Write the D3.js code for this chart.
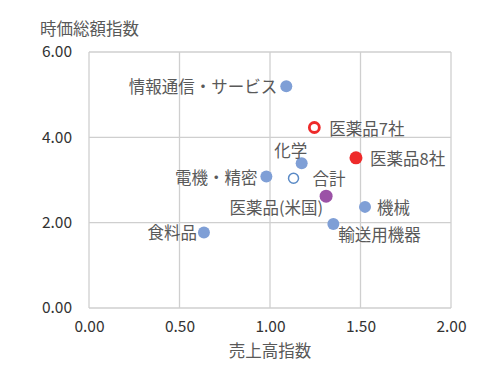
<!DOCTYPE html>
<html><head><meta charset="utf-8">
<script src="https://cdn.jsdelivr.net/npm/d3@7"></script>
<style>
body{margin:0;background:#fff;}
text{font-family:"Noto Sans CJK JP","Noto Sans",sans-serif;}
</style></head>
<body><svg id="c" width="500" height="380"></svg>
<script>
// ---- data ----
const names = ["情報通信・サービス","医薬品7社","医薬品8社","化学","電機・精密","合計","医薬品(米国)","機械","輸送用機器","食料品"];
const salesIndex = [1.09, 1.245, 1.475, 1.175, 0.98, 1.13, 1.31, 1.525, 1.35, 0.635];
const marketCapIndex = [5.2, 4.23, 3.52, 3.39, 3.08, 3.04, 2.62, 2.37, 1.97, 1.77];
const markerType = ["blue","redHollow","red","blue","blue","blueHollow","purple","blue","blue","blue"];
const xTicks = [0, 0.5, 1.0, 1.5, 2.0];
const yTicks = [0, 2, 4, 6];
const xTitle = "売上高指数";
const yTitle = "時価総額指数";

// ---- layout (label placement relative to marker) ----
const labelPlace = [
  {dx:-9, dy:0, anchor:"end"},
  {dx:15, dy:0, anchor:"start"},
  {dx:14, dy:0, anchor:"start"},
  {dx:-11, dy:-13, anchor:"middle"},
  {dx:-9, dy:0, anchor:"end"},
  {dx:19, dy:0, anchor:"start"},
  {dx:-3, dy:11, anchor:"end"},
  {dx:12, dy:0, anchor:"start"},
  {dx:5, dy:10, anchor:"start"},
  {dx:-7, dy:0, anchor:"end"}
];
const styles = {
  blue:{r:6, fill:"#7f9fd6", stroke:"none", sw:0},
  red:{r:6.5, fill:"#ee2a2a", stroke:"none", sw:0},
  purple:{r:6.5, fill:"#9b52a6", stroke:"none", sw:0},
  redHollow:{r:5, fill:"#fff", stroke:"#ee2a2a", sw:2.8},
  blueHollow:{r:5, fill:"#fff", stroke:"#5a8ac6", sw:1.5}
};

const svg = d3.select("#c");
const x = d3.scaleLinear().domain([0,2]).range([89,451]);
const y = d3.scaleLinear().domain([0,6]).range([308,52]);

// grid
svg.append("g").selectAll("line").data(xTicks).join("line")
  .attr("x1",d=>x(d)).attr("x2",d=>x(d)).attr("y1",y(0)).attr("y2",y(6))
  .attr("stroke","#cfcfcf").attr("stroke-width",1.3);
svg.append("g").selectAll("line").data(yTicks).join("line")
  .attr("x1",x(0)).attr("x2",x(2)).attr("y1",d=>y(d)).attr("y2",d=>y(d))
  .attr("stroke","#cfcfcf").attr("stroke-width",1.3);

// axes (tick labels only)
const xAxis = svg.append("g").attr("transform",`translate(0,${y(0)})`)
  .call(d3.axisBottom(x).tickValues(xTicks).tickFormat(d3.format(".2f")).tickSize(0).tickPadding(13));
xAxis.select(".domain").remove();
xAxis.selectAll("text").attr("font-size",15.5).attr("fill","#333").attr("font-family","'Noto Sans CJK JP',sans-serif");
const yAxis = svg.append("g").attr("transform",`translate(${x(0)},0)`)
  .call(d3.axisLeft(y).tickValues(yTicks).tickFormat(d3.format(".2f")).tickSize(0).tickPadding(17));
yAxis.select(".domain").remove();
yAxis.selectAll("text").attr("font-size",15.5).attr("fill","#333").attr("font-family","'Noto Sans CJK JP',sans-serif");

// titles
svg.append("text").attr("x",270).attr("y",350).attr("text-anchor","middle")
  .attr("dominant-baseline","central").attr("font-size",16.5).attr("fill","#595959").text(xTitle);
svg.append("text").attr("x",40).attr("y",28).attr("dominant-baseline","central")
  .attr("font-size",16.5).attr("fill","#595959").text(yTitle);

// points
const idx = d3.range(names.length);
svg.append("g").selectAll("circle").data(idx).join("circle")
  .attr("cx",i=>x(salesIndex[i])).attr("cy",i=>y(marketCapIndex[i]))
  .attr("r",i=>styles[markerType[i]].r)
  .attr("fill",i=>styles[markerType[i]].fill)
  .attr("stroke",i=>styles[markerType[i]].stroke)
  .attr("stroke-width",i=>styles[markerType[i]].sw);

// labels
svg.append("g").selectAll("text").data(idx).join("text")
  .attr("x",i=>x(salesIndex[i])+labelPlace[i].dx)
  .attr("y",i=>y(marketCapIndex[i])+labelPlace[i].dy)
  .attr("text-anchor",i=>labelPlace[i].anchor)
  .attr("dominant-baseline","central")
  .attr("font-size",16.5).attr("fill","#595959")
  .text(i=>names[i]);
</script></body></html>
